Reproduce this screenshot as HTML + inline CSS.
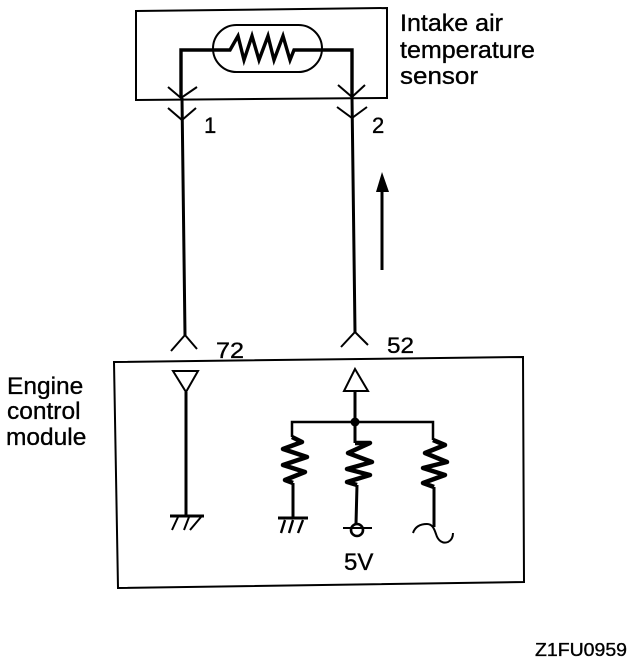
<!DOCTYPE html>
<html><head><meta charset="utf-8"><style>
html,body{margin:0;padding:0;background:#fff}
svg{display:block}
text{font-family:"Liberation Sans",sans-serif;fill:#000;stroke:#000;stroke-width:.35}
</style></head><body>
<svg width="640" height="662" viewBox="0 0 640 662" xmlns="http://www.w3.org/2000/svg">
<g fill="none" stroke="#000" stroke-linejoin="miter">
<polygon points="136,11 387,8 387,98 136,100" stroke-width="2"/>
<rect x="213" y="25" width="109" height="47" rx="23.5" ry="23.5" stroke-width="2"/>
<path d="M181,98V50H230L238,36L244,60L252,36L259,60L268,36L274,60L283,36L290,60L294,50H352V97" stroke-width="3.4"/>
<path d="M182,98L185,335M352,97L355,332" stroke-width="3"/>
<path d="M168,87L181,98L197,87M168,108L182,120L196,108M338,85L352,97L365,85M337,107L352,118L367,107" stroke-width="2"/>
<path d="M171,351L185,335L197,349M341,347L355,332L368,345" stroke-width="2"/>
<polygon points="114,362 523,357 524,582 118,588" stroke-width="2"/>
<polygon points="173,371 198,371 186,392" stroke-width="2"/>
<path d="M186,392V516" stroke-width="3"/>
<path d="M170,516H204" stroke-width="3"/>
<path d="M178,517L172,530M189,517L184,530M201,517L190,530" stroke-width="2"/>
<polygon points="355,369 344,391 368,391" stroke-width="2"/>
<path d="M355,391V422" stroke-width="3"/>
<path d="M292,437V422H433V440" stroke-width="2.5"/>
<path d="M355,422V443" stroke-width="3"/>
<g stroke-width="4.5" stroke-linejoin="round">
<path d="M292,437L302,442L283,449L307,457L283,465L305,472L285,480L293,483"/>
<path d="M355,443L370,443L348,453L372,462L347,469L370,475L347,482L357,485"/>
<path d="M433,440L445,445L425,453L447,462L423,468L445,475L423,483L434,487"/>
</g>
<path d="M293,483V519M357,485L356,524M434,487V527" stroke-width="3"/>
<path d="M278,518H308" stroke-width="3"/>
<path d="M285,520L281,533M293,520L289,533M303,520L298,533" stroke-width="2.4"/>
<circle cx="357" cy="530" r="6" stroke-width="2.6"/>
<path d="M343,528H372" stroke-width="2"/>
<path d="M413,533C415,527 420,524 427,524C432,524 434,528 436,534C438,541 443,544 448,542C452,540 453,537 453,533" stroke-width="2"/>
<path d="M382,270V190" stroke-width="3"/>
</g>
<circle cx="355" cy="422" r="4.5" fill="#000"/>
<polygon points="382,172 376,192 389,192" fill="#000"/>
<g font-size="24.5">
<text x="400" y="31" textLength="103" lengthAdjust="spacingAndGlyphs">Intake air</text>
<text x="400" y="58" textLength="135" lengthAdjust="spacingAndGlyphs">temperature</text>
<text x="400" y="84" textLength="78" lengthAdjust="spacingAndGlyphs">sensor</text>
<text x="7" y="394">Engine</text>
<text x="7" y="419">control</text>
<text x="6" y="445">module</text>
</g>
<text x="344" y="570" font-size="24">5V</text>
<g font-size="22">
<text x="204" y="133">1</text>
<text x="372" y="133">2</text>
<text x="216" y="358" textLength="28" lengthAdjust="spacingAndGlyphs">72</text>
<text x="387" y="353" textLength="27" lengthAdjust="spacingAndGlyphs">52</text>
</g>
<text x="535" y="656" font-size="18" textLength="92" lengthAdjust="spacingAndGlyphs">Z1FU0959</text>
</svg>
</body></html>
